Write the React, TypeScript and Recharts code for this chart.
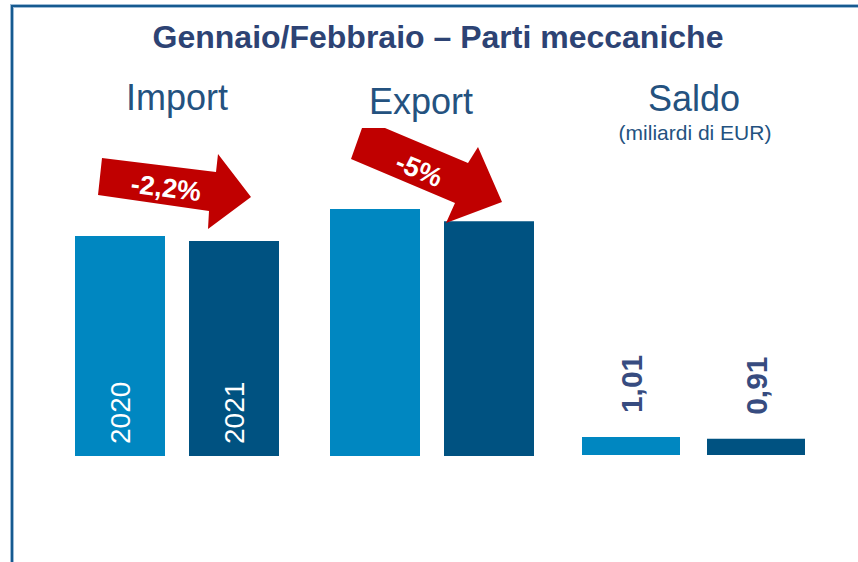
import React from "react";
import { BarChart, Bar, XAxis, YAxis, LabelList } from "recharts";

// valori (import/export come indice, 2020 import = 100)
const groups = ["Import", "Export"];
const trade2020 = [100, 112.3];
const trade2021 = [97.8, 106.7];
const saldoGroup = ["Saldo"];
const saldo2020 = [1.01];
const saldo2021 = [0.91];
const years = ["2020", "2021"];
const changes = ["-2,2%", "-5%"];

const LIGHT = "#0087C1";
const DARK = "#005281";
const FONT = "'Liberation Sans', Arial, sans-serif";

const tradeData = groups.map((g, i) => ({ group: g, y2020: trade2020[i], y2021: trade2021[i] }));
const saldoData = saldoGroup.map((g, i) => ({ group: g, y2020: saldo2020[i], y2021: saldo2021[i] }));

const yearLabel = (year: string) => (p: any) => {
  if (p.index !== 0) return null;
  const cx = p.x + p.width / 2 + 10;
  const by = p.y + p.height - 12;
  return (
    <text x={cx} y={by} transform={`rotate(-90 ${cx} ${by})`} fill="#fff" fontSize={28} fontFamily={FONT}>
      {year}
    </text>
  );
};

const saldoLabel = (p: any) => {
  const cx = p.x + p.width / 2 + 11;
  const by = p.y - 24;
  const txt = Number(p.value).toFixed(2).replace(".", ",");
  return (
    <text x={cx} y={by} transform={`rotate(-90 ${cx} ${by})`} fill="#374C80" fontSize={30} fontWeight="bold" fontFamily={FONT}>
      {txt}
    </text>
  );
};

export default function App() {
  return (
    <div style={{ position: "absolute", left: 0, top: 0, width: 858, height: 562, background: "#fff", overflow: "hidden" }}>
      <div style={{ position: "absolute", left: 0, top: 0 }}>
        <BarChart width={600} height={562} data={tradeData} margin={{ left: 49, right: 41, top: 180, bottom: 106 }} barSize={90} barGap={24}>
          <XAxis dataKey="group" hide />
          <YAxis hide domain={[0, 125.5]} />
          <Bar dataKey="y2020" fill={LIGHT} isAnimationActive={false}>
            <LabelList dataKey="y2020" content={yearLabel(years[0])} />
          </Bar>
          <Bar dataKey="y2021" fill={DARK} isAnimationActive={false}>
            <LabelList dataKey="y2021" content={yearLabel(years[1])} />
          </Bar>
        </BarChart>
      </div>
      <div style={{ position: "absolute", left: 540, top: 0 }}>
        <BarChart width={318} height={562} data={saldoData} margin={{ left: 26, right: 37, top: 180, bottom: 107 }} barSize={98} barGap={27}>
          <XAxis dataKey="group" hide />
          <YAxis hide domain={[0, 15.5]} />
          <Bar dataKey="y2020" fill={LIGHT} isAnimationActive={false}>
            <LabelList dataKey="y2020" content={saldoLabel} />
          </Bar>
          <Bar dataKey="y2021" fill={DARK} isAnimationActive={false}>
            <LabelList dataKey="y2021" content={saldoLabel} />
          </Bar>
        </BarChart>
      </div>
      <svg width={858} height={562} style={{ position: "absolute", left: 0, top: 0, pointerEvents: "none" }}>
        <path d="M12 562 L12 6 L858 6" fill="none" stroke="#9DBBD6" strokeWidth={4} />
        <path d="M12 562 L12 6 L858 6" fill="none" stroke="#165A90" strokeWidth={2} />
        <text x={438} y={48} textAnchor="middle" fill="#2D4374" fontSize={32} fontWeight="bold" fontFamily={FONT}>
          Gennaio/Febbraio – Parti meccaniche
        </text>
        <text x={177} y={110} textAnchor="middle" fill="#24527F" fontSize={36} fontFamily={FONT}>{groups[0]}</text>
        <text x={421} y={114} textAnchor="middle" fill="#24527F" fontSize={36} fontFamily={FONT}>{groups[1]}</text>
        <text x={694} y={111} textAnchor="middle" fill="#24527F" fontSize={36} fontFamily={FONT}>{saldoGroup[0]}</text>
        <text x={695} y={140} textAnchor="middle" fill="#24527F" fontSize={21} fontFamily={FONT}>(miliardi di EUR)</text>
        <polygon points="102,158 216,172 218,154 251,197 208,229 209,211 98,195" fill="#C00000" />
        <text x={166} y={188} textAnchor="middle" dominantBaseline="central" transform="rotate(7 166 188)" fill="#fff" fontSize={27} fontWeight="bold" fontFamily={FONT}>
          {changes[0]}
        </text>
        <polygon points="362,128 385,128 468,163 478,147 502,202 446,223 455,203 351,159" fill="#C00000" />
        <text x={419} y={170} textAnchor="middle" dominantBaseline="central" transform="rotate(23 419 170)" fill="#fff" fontSize={27} fontWeight="bold" fontFamily={FONT}>
          {changes[1]}
        </text>
      </svg>
    </div>
  );
}
